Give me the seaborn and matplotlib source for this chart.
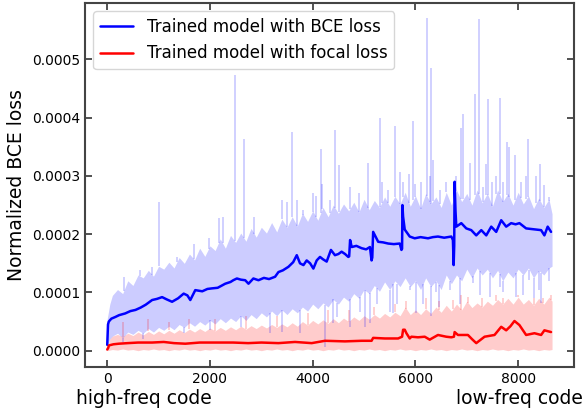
import numpy as np
import matplotlib
matplotlib.use("Agg")
import matplotlib.pyplot as plt
from matplotlib.ticker import FormatStrFormatter
import seaborn as sns

# values, y in units of 1e-4
blue_x = [0, 15, 30, 80, 160, 230, 350, 450, 550, 650, 750, 874, 970, 1068, 1160, 1262, 1380,
          1488, 1560, 1617, 1714, 1850, 1950, 2039, 2150, 2297, 2400, 2454, 2524, 2600, 2686,
          2750, 2845, 2944, 3050, 3150, 3268, 3333, 3420, 3527, 3620, 3690, 3753, 3820, 3883,
          3950, 4013, 4078, 4142, 4200, 4272, 4355, 4433, 4500, 4563, 4630, 4693, 4710, 4728,
          4760, 4850, 4952, 5040, 5114, 5146, 5160, 5177, 5275, 5370, 5469, 5580, 5695, 5728,
          5740, 5747, 5760, 5792, 5889, 5986, 6100, 6245, 6340, 6439, 6560, 6699, 6730, 6744,
          6755, 6763, 6780, 6796, 6893, 6990, 7087, 7184, 7282, 7379, 7476, 7573, 7670, 7767,
          7864, 7950, 8025, 8155, 8250, 8350, 8447, 8511, 8575, 8640]
blue_y = [0.10, 0.45, 0.50, 0.55, 0.58, 0.61, 0.64, 0.68, 0.70, 0.74, 0.79, 0.87, 0.89, 0.92,
          0.88, 0.84, 0.90, 0.98, 0.95, 0.87, 1.04, 1.02, 1.06, 1.07, 1.08, 1.15, 1.18, 1.21,
          1.24, 1.22, 1.21, 1.15, 1.24, 1.21, 1.25, 1.23, 1.27, 1.35, 1.38, 1.44, 1.52, 1.64,
          1.50, 1.47, 1.55, 1.50, 1.41, 1.55, 1.61, 1.57, 1.53, 1.73, 1.64, 1.66, 1.70, 1.66,
          1.61, 1.62, 1.90, 1.78, 1.80, 1.76, 1.74, 1.78, 1.55, 1.60, 2.04, 1.87, 1.86, 1.84,
          1.83, 1.84, 1.73, 1.75, 2.50, 2.30, 2.08, 1.96, 1.93, 1.95, 1.93, 1.95, 1.96, 1.94,
          1.96, 1.90, 1.47, 1.80, 2.90, 2.40, 2.13, 2.19, 2.10, 2.07, 1.98, 2.07, 1.98, 2.13,
          2.04, 2.24, 2.13, 2.19, 2.17, 2.19, 2.10, 2.09, 2.08, 2.07, 1.98, 2.13, 2.04]

red_x = [0, 20, 32, 120, 226, 400, 600, 874, 1100, 1300, 1520, 1800, 2167, 2450, 2744, 3000,
         3333, 3656, 3980, 4239, 4628, 4952, 5146, 5177, 5405, 5663, 5740, 5760, 5792, 5825,
         5889, 5922, 6050, 6181, 6278, 6439, 6600, 6699, 6750, 6763, 6828, 7022, 7100, 7184,
         7346, 7540, 7670, 7767, 7850, 7928, 8025, 8155, 8317, 8447, 8511, 8640]
red_y = [0.02, 0.05, 0.09, 0.11, 0.12, 0.13, 0.14, 0.14, 0.15, 0.13, 0.12, 0.14, 0.14, 0.14,
         0.13, 0.14, 0.13, 0.15, 0.13, 0.17, 0.16, 0.17, 0.17, 0.22, 0.21, 0.21, 0.24, 0.36,
         0.36, 0.30, 0.21, 0.24, 0.23, 0.24, 0.19, 0.27, 0.24, 0.23, 0.24, 0.32, 0.27, 0.27,
         0.20, 0.13, 0.24, 0.27, 0.41, 0.35, 0.42, 0.51, 0.44, 0.27, 0.30, 0.27, 0.35, 0.32]

# raw (unsmoothed) spread of each run
band_x = [0, 50, 100, 200, 300, 400, 500, 600, 700, 800, 900, 1000, 1100, 1200, 1300, 1400,
          1500, 1600, 1700, 1800, 1900, 2000, 2100, 2200, 2300, 2400, 2500, 2600, 2700, 2800,
          2900, 3000, 3100, 3200, 3300, 3400, 3500, 3600, 3700, 3800, 3900, 4000, 4100, 4200,
          4300, 4400, 4500, 4600, 4700, 4800, 4900, 5000, 5100, 5200, 5300, 5400, 5500, 5600,
          5700, 5800, 5900, 6000, 6100, 6200, 6300, 6400, 6500, 6600, 6700, 6800, 6900, 7000,
          7100, 7200, 7300, 7400, 7500, 7600, 7700, 7800, 7900, 8000, 8100, 8200, 8300, 8400,
          8500, 8600, 8660]
blue_hi = [0.55, 0.80, 0.95, 1.05, 0.98, 1.20, 1.12, 1.30, 1.25, 1.38, 1.28, 1.45, 1.40, 1.52,
           1.42, 1.60, 1.50, 1.66, 1.56, 1.76, 1.62, 1.80, 1.72, 1.92, 1.76, 1.98, 1.86, 2.02,
           1.88, 2.10, 1.95, 2.12, 2.02, 2.20, 2.04, 2.26, 2.12, 2.30, 2.14, 2.36, 2.22, 2.40,
           2.24, 2.46, 2.30, 2.50, 2.36, 2.52, 2.40, 2.55, 2.38, 2.60, 2.42, 2.58, 2.46, 2.64,
           2.48, 2.65, 2.52, 2.72, 2.48, 2.66, 2.44, 2.70, 2.52, 2.64, 2.46, 2.72, 2.50, 2.76,
           2.56, 2.70, 2.50, 2.76, 2.54, 2.70, 2.48, 2.76, 2.56, 2.70, 2.50, 2.72, 2.52, 2.66,
           2.44, 2.62, 2.46, 2.60, 2.35]
blue_lo = [0.10, 0.20, 0.25, 0.30, 0.22, 0.32, 0.28, 0.35, 0.30, 0.38, 0.32, 0.40, 0.35, 0.42,
           0.36, 0.45, 0.40, 0.48, 0.42, 0.50, 0.44, 0.52, 0.46, 0.55, 0.48, 0.56, 0.50, 0.60,
           0.52, 0.62, 0.55, 0.65, 0.58, 0.68, 0.60, 0.70, 0.62, 0.72, 0.65, 0.75, 0.68, 0.80,
           0.72, 0.82, 0.75, 0.88, 0.80, 0.92, 0.85, 0.98, 0.90, 1.05, 0.98, 1.12, 1.02, 1.18,
           1.05, 1.20, 1.10, 1.25, 1.10, 1.20, 1.05, 1.25, 1.10, 1.20, 1.05, 1.30, 1.15, 1.30,
           1.20, 1.40, 1.25, 1.42, 1.30, 1.40, 1.25, 1.38, 1.20, 1.35, 1.25, 1.40, 1.30, 1.42,
           1.25, 1.38, 1.30, 1.42, 1.45]
red_hi = [0.05, 0.20, 0.25, 0.28, 0.24, 0.30, 0.26, 0.32, 0.27, 0.33, 0.28, 0.34, 0.29, 0.35,
          0.30, 0.36, 0.31, 0.37, 0.32, 0.38, 0.33, 0.39, 0.34, 0.40, 0.35, 0.41, 0.36, 0.42,
          0.37, 0.43, 0.38, 0.44, 0.39, 0.45, 0.40, 0.46, 0.41, 0.48, 0.42, 0.50, 0.44, 0.52,
          0.46, 0.53, 0.47, 0.55, 0.48, 0.56, 0.50, 0.58, 0.52, 0.60, 0.54, 0.62, 0.56, 0.64,
          0.58, 0.66, 0.60, 0.75, 0.62, 0.70, 0.62, 0.72, 0.64, 0.75, 0.66, 0.78, 0.68, 0.80,
          0.70, 0.85, 0.74, 0.82, 0.75, 0.85, 0.78, 0.88, 0.80, 0.90, 0.80, 0.92, 0.80, 0.88,
          0.78, 0.90, 0.80, 0.92, 0.85]
red_lo = [0.00, 0.01, 0.02, 0.01, 0.03, 0.01, 0.02, 0.00, 0.02, 0.01, 0.03, 0.01, 0.02, 0.00,
          0.02, 0.01, 0.03, 0.01, 0.02, 0.00, 0.02, 0.01, 0.03, 0.01, 0.02, 0.00, 0.02, 0.01,
          0.03, 0.01, 0.02, 0.00, 0.02, 0.01, 0.03, 0.01, 0.02, 0.00, 0.02, 0.01, 0.03, 0.01,
          0.02, 0.00, 0.02, 0.01, 0.03, 0.01, 0.02, 0.00, 0.02, 0.01, 0.03, 0.01, 0.02, 0.00,
          0.02, 0.01, 0.03, 0.01, 0.02, 0.00, 0.02, 0.01, 0.03, 0.01, 0.02, 0.00, 0.02, 0.01,
          0.03, 0.01, 0.02, 0.00, 0.02, 0.01, 0.03, 0.01, 0.02, 0.00, 0.02, 0.01, 0.03, 0.01,
          0.02, 0.00, 0.02, 0.01, 0.02]

# single large raw values sticking out of the band
spike_x = [323, 647, 874, 1003, 1359, 1682, 1973, 2167, 2245, 2478, 2666, 2860, 3041, 3398,
           3495, 3598, 3701, 3818, 4012, 4064, 4155, 4187, 4336, 4439, 4517, 4725, 4900, 5080,
           5307, 5340, 5469, 5612, 5695, 5760, 5876, 5961, 5986, 6100, 6226, 6278, 6297, 6342,
           6472, 6600, 6796, 6880, 6932, 7054, 7165, 7229, 7313, 7379, 7410, 7500, 7573, 7637,
           7700, 7779, 7831, 7942, 8050, 8155, 8187, 8350, 8427, 8500, 8608]
spike_y = [1.27, 1.38, 1.44, 2.56, 1.61, 1.84, 1.93, 2.27, 2.30, 4.73, 3.63, 2.30, 2.07, 2.59,
           2.56, 3.76, 2.58, 2.41, 2.70, 2.66, 3.46, 2.87, 2.59, 3.79, 3.19, 2.81, 2.70, 3.22,
           3.99, 2.90, 2.76, 3.86, 3.06, 2.90, 3.04, 3.95, 2.87, 2.90, 5.71, 3.00, 4.85, 3.27,
           2.76, 2.90, 3.00, 3.82, 4.06, 3.22, 4.41, 5.70, 2.81, 3.20, 4.32, 2.90, 3.00, 4.34,
           2.90, 3.59, 3.50, 3.36, 2.90, 3.00, 3.63, 3.00, 3.20, 2.85, 2.64]
dip_x = [300, 700, 1500, 2000, 2600, 3171, 3398, 3753, 4239, 4400, 4466, 4725, 4919, 5016,
         5113, 5243, 5500, 5566, 5650, 5889, 6019, 6150, 6310, 6408, 6450, 6666, 6860, 7119,
         7250, 7443, 7637, 7700, 7961, 8100, 8220, 8300, 8414, 8450, 8608]
dip_y = [0.15, 0.20, 0.30, 0.35, 0.40, 0.30, 0.32, 0.30, 0.07, 0.47, 0.58, 0.41, 0.67, 0.41,
         0.47, 0.81, 0.67, 0.64, 0.80, 1.04, 0.64, 0.80, 0.60, 1.00, 0.75, 1.04, 0.81, 1.16,
         0.95, 0.92, 1.10, 1.00, 0.92, 0.95, 1.21, 0.90, 1.04, 0.82, 1.20]
red_spike_x = [300, 800, 1200, 1600, 2100, 2700, 3300, 3900, 4300, 4700, 5200, 5600, 5825,
               6200, 6450, 6731, 6893, 7022, 7300, 7573, 7700, 8000, 8300, 8479, 8641]
red_spike_y = [0.50, 0.55, 0.50, 0.55, 0.55, 0.60, 0.60, 0.65, 0.70, 0.70, 0.75, 0.80, 0.85,
               0.90, 0.85, 0.87, 0.95, 0.92, 0.90, 0.95, 0.90, 0.95, 0.90, 0.90, 0.95]

sc = 1e-4

sns.set_style("ticks")
plt.rcParams["font.family"] = ["DejaVu Sans"]
plt.rcParams["text.color"] = "black"
plt.rcParams["axes.labelcolor"] = "black"
plt.rcParams["xtick.labelcolor"] = "black"
plt.rcParams["ytick.labelcolor"] = "black"

fig, ax = plt.subplots(figsize=(5.85, 4.17), dpi=100)
fig.subplots_adjust(left=0.1453, right=0.9817, top=0.9928, bottom=0.1192)

bx = np.array(band_x)
# blue raw spread
ax.fill_between(bx, np.array(blue_lo) * sc, np.array(blue_hi) * sc, color="blue", alpha=0.2, lw=0)
ax.vlines(spike_x, np.interp(spike_x, bx, blue_hi) * sc, np.array(spike_y) * sc,
          color="blue", alpha=0.2, lw=1.3)
ax.vlines(dip_x, np.array(dip_y) * sc, np.interp(dip_x, bx, blue_lo) * sc,
          color="blue", alpha=0.2, lw=1.3)
# red raw spread
ax.fill_between(bx, np.array(red_lo) * sc, np.array(red_hi) * sc, color="red", alpha=0.2, lw=0)
ax.vlines(red_spike_x, np.interp(red_spike_x, bx, red_hi) * sc, np.array(red_spike_y) * sc,
          color="red", alpha=0.2, lw=1.3)

sns.lineplot(x=blue_x, y=np.array(blue_y) * sc, color="blue", lw=1.8, ax=ax,
             label="Trained model with BCE loss")
sns.lineplot(x=red_x, y=np.array(red_y) * sc, color="red", lw=1.8, ax=ax,
             label="Trained model with focal loss")

ax.set_xlim(-433, 9093)
ax.set_ylim(-0.0000285, 0.000597)
ax.set_xticks([0, 2000, 4000, 6000, 8000])
ax.set_yticks([0, 0.0001, 0.0002, 0.0003, 0.0004, 0.0005])
ax.yaxis.set_major_formatter(FormatStrFormatter("%.4f"))
ax.tick_params(direction="in", top=True, right=True, length=5, width=1.2,
               labelsize=10, color="#333333")
for s in ax.spines.values():
    s.set_linewidth(1.5)
    s.set_color("#444444")

ax.set_xlabel("")
ax.set_ylabel("Normalized BCE loss", fontsize=13.5)
fig.text(76 / 585, 1 - 399 / 417, "high-freq code", fontsize=13.5, ha="left", va="center")
fig.text(583 / 585, 1 - 399 / 417, "low-freq code", fontsize=13.5, ha="right", va="center")

leg = ax.legend(loc="upper left", fontsize=12, frameon=True, fancybox=True,
                borderaxespad=0.5)
leg.get_frame().set_edgecolor("#cccccc")
for h in leg.get_lines():
    h.set_linewidth(1.8)

fig.savefig("out.png", dpi=100)
